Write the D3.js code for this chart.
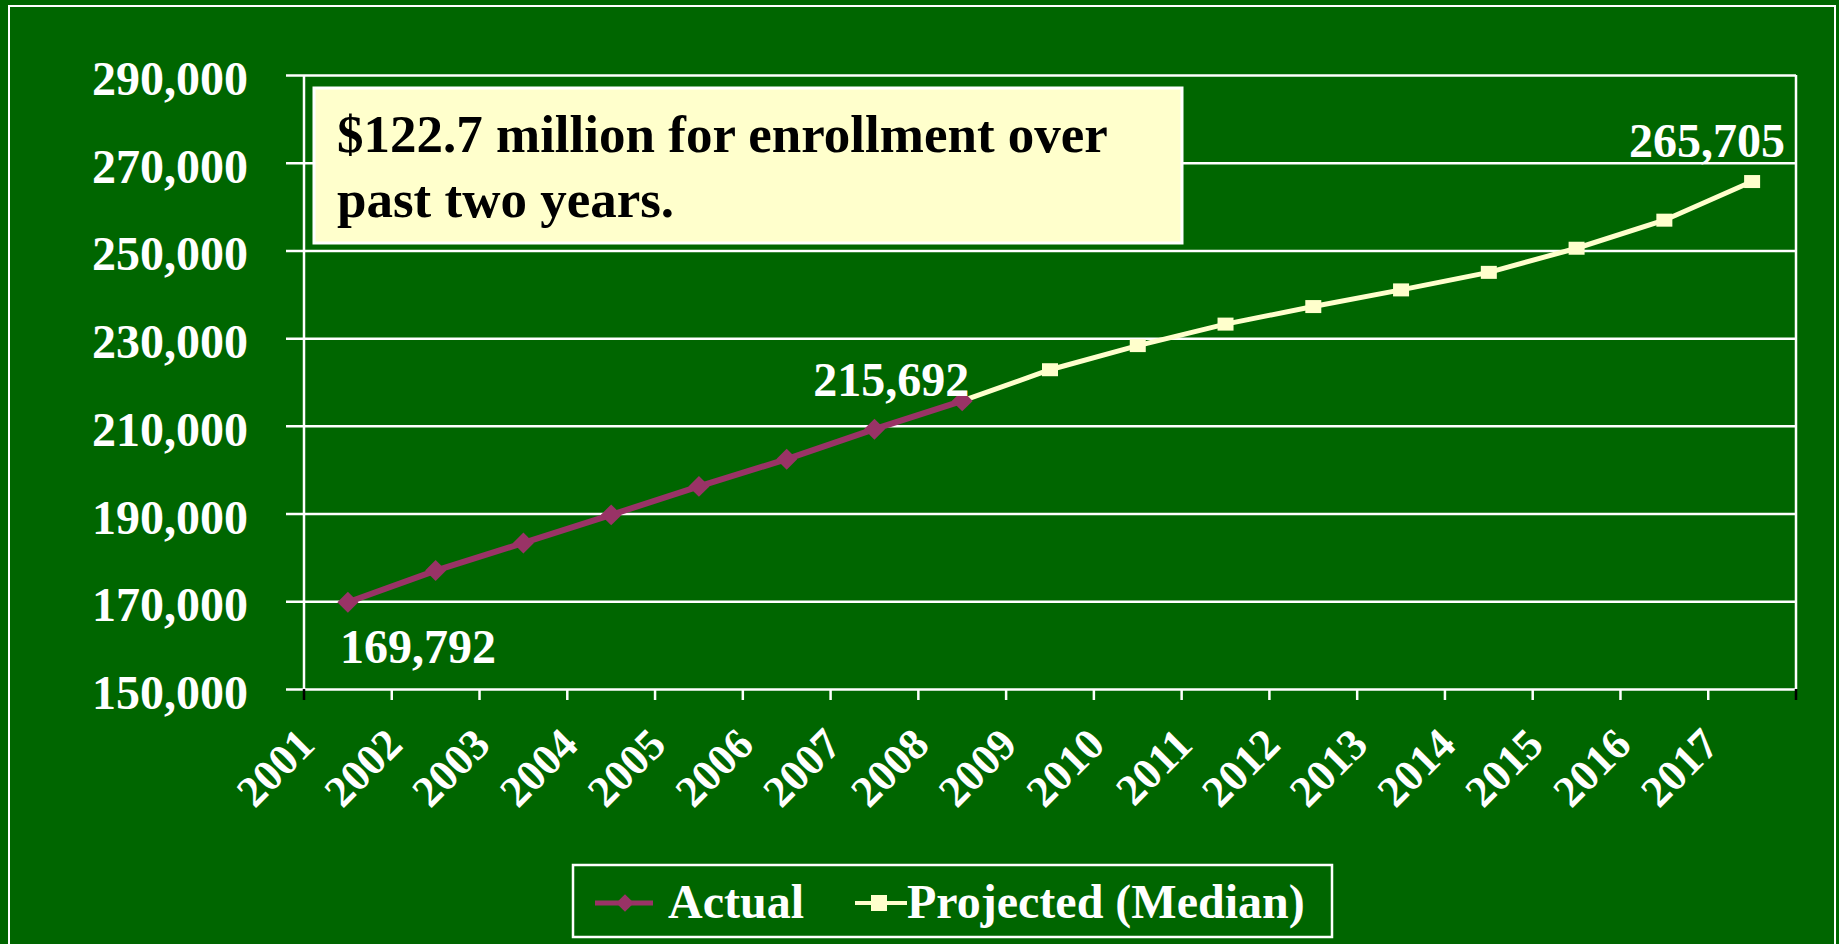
<!DOCTYPE html>
<html>
<head>
<meta charset="utf-8">
<script src="https://cdn.jsdelivr.net/npm/d3@7"></script>
<style>
  html, body { margin: 0; padding: 0; background: #006600; }
  svg { display: block; font-family: "Liberation Serif", "Times New Roman", serif; font-weight: bold; }
</style>
</head>
<body>
<svg id="chart"></svg>
<script>
// Data
const years = ["2001","2002","2003","2004","2005","2006","2007","2008","2009",
               "2010","2011","2012","2013","2014","2015","2016","2017"];
const actualYears = ["2001","2002","2003","2004","2005","2006","2007","2008"];
const actualValues = [169792, 177000, 183300, 189700, 196200, 202400, 209250, 215692];
const projectedYears = ["2008","2009","2010","2011","2012","2013","2014","2015","2016","2017"];
const projectedValues = [215692, 222800, 228300, 233200, 237200, 241000, 245000, 250500, 256900, 265705];
const yTicks = [150000, 170000, 190000, 210000, 230000, 250000, 270000, 290000];

const W = 1839, H = 944;
const margin = { top: 75, right: 43, bottom: 255, left: 304 };
const width = W - margin.left - margin.right;
const height = H - margin.top - margin.bottom;

const root = d3.select("#chart").attr("width", W).attr("height", H);

// background + outer frame
root.append("rect").attr("width", W).attr("height", H).attr("fill", "#006600");
root.append("rect")
  .attr("x", 9).attr("y", 6).attr("width", 1826).attr("height", 960)
  .attr("fill", "none").attr("stroke", "#fff").attr("stroke-width", 2);

const svg = root.append("g")
  .attr("transform", "translate(" + margin.left + "," + margin.top + ")");

const x = d3.scaleBand().domain(years).range([0, width]);
const y = d3.scaleLinear().domain([150000, 290000]).range([height, 0]);
const cx = d => x(d) + x.bandwidth() / 2;

// gridlines with left ticks
svg.append("g")
  .call(d3.axisLeft(y).tickValues(yTicks).tickSize(18).tickFormat(""))
  .call(g => g.select(".domain").remove())
  .call(g => g.selectAll("line").attr("x2", width).attr("x1", -18)
    .attr("stroke", "#fff").attr("stroke-width", 2.5));

// y labels
svg.selectAll(".ylab")
  .data(yTicks)
  .enter().append("text")
  .attr("x", -56)
  .attr("y", d => y(d) + 20)
  .attr("text-anchor", "end")
  .attr("fill", "#fff")
  .style("font-size", "48px")
  .text(d => d3.format(",")(d));

// plot frame
svg.append("line").attr("x1", 0).attr("x2", 0).attr("y1", 0).attr("y2", height)
  .attr("stroke", "#fff").attr("stroke-width", 2.5);
svg.append("line").attr("x1", width).attr("x2", width).attr("y1", 0).attr("y2", height)
  .attr("stroke", "#fff").attr("stroke-width", 2.5);

// x ticks at band boundaries
const bounds = years.map(d => x(d)).concat([width]);
svg.selectAll(".xtick")
  .data(bounds)
  .enter().append("line")
  .attr("x1", d => d).attr("x2", d => d)
  .attr("y1", height).attr("y2", height + 11)
  .attr("stroke", (d, i) => (i === 0 || i === bounds.length - 1) ? "#000" : "#fff")
  .attr("stroke-width", 2.5);

// x labels
svg.selectAll(".xlab")
  .data(years)
  .enter().append("text")
  .attr("transform", d => "translate(" + (cx(d) - 31) + "," + (height + 58) + ") rotate(-45)")
  .attr("text-anchor", "end")
  .attr("fill", "#fff")
  .style("font-size", "44px")
  .text(d => d);

// annotation box
svg.append("rect")
  .attr("x", 10).attr("y", 13).attr("width", 868).attr("height", 155)
  .attr("fill", "#FFFFCC").attr("stroke", "#fff").attr("stroke-width", 3);
svg.append("text").attr("x", 33).attr("y", 77).attr("fill", "#000")
  .style("font-size", "53px").text("$122.7 million for enrollment over");
svg.append("text").attr("x", 33).attr("y", 142).attr("fill", "#000")
  .style("font-size", "53px").text("past two years.");

// lines
const line = d3.line().x(d => cx(d[0])).y(d => y(d[1]));
const proj = projectedYears.map((d, i) => [d, projectedValues[i]]);
const act = actualYears.map((d, i) => [d, actualValues[i]]);

svg.append("path").datum(proj).attr("d", line)
  .attr("fill", "none").attr("stroke", "#FFFFCC").attr("stroke-width", 5);
svg.selectAll(".sq")
  .data(proj.slice(1))
  .enter().append("rect")
  .attr("x", d => cx(d[0]) - 8).attr("y", d => y(d[1]) - 6.5)
  .attr("width", 16).attr("height", 13)
  .attr("fill", "#FFFFCC");

svg.append("path").datum(act).attr("d", line)
  .attr("fill", "none").attr("stroke", "#993366").attr("stroke-width", 6);
svg.selectAll(".dm")
  .data(act)
  .enter().append("path")
  .attr("d", d3.symbol().type(d3.symbolDiamond2).size(280))
  .attr("transform", d => "translate(" + cx(d[0]) + "," + y(d[1]) + ")")
  .attr("fill", "#993366");

// data labels
const labels = [
  { year: "2001", value: actualValues[0], dx: 70, dy: 61 },
  { year: "2008", value: actualValues[7], dx: -71, dy: -5 },
  { year: "2017", value: projectedValues[9], dx: -45, dy: -25 }
];
svg.selectAll(".dlab")
  .data(labels)
  .enter().append("text")
  .attr("x", d => cx(d.year) + d.dx)
  .attr("y", d => y(d.value) + d.dy)
  .attr("text-anchor", "middle")
  .attr("fill", "#fff")
  .style("font-size", "48px")
  .text(d => d3.format(",")(d.value));

// legend
const lg = root.append("g").attr("transform", "translate(573,865)");
lg.append("rect").attr("width", 759).attr("height", 72)
  .attr("fill", "none").attr("stroke", "#fff").attr("stroke-width", 2.5);
lg.append("line").attr("x1", 22).attr("x2", 80).attr("y1", 38).attr("y2", 38)
  .attr("stroke", "#993366").attr("stroke-width", 5);
lg.append("path").attr("d", d3.symbol().type(d3.symbolDiamond2).size(200))
  .attr("transform", "translate(52,38)").attr("fill", "#993366");
lg.append("text").attr("x", 95).attr("y", 53).attr("fill", "#fff")
  .style("font-size", "48px").text("Actual");
lg.append("line").attr("x1", 282).attr("x2", 334).attr("y1", 38).attr("y2", 38)
  .attr("stroke", "#FFFFCC").attr("stroke-width", 4);
lg.append("rect").attr("x", 298).attr("y", 30).attr("width", 16).attr("height", 16)
  .attr("fill", "#FFFFCC");
lg.append("text").attr("x", 334).attr("y", 53).attr("fill", "#fff")
  .style("font-size", "48px").text("Projected (Median)");
</script>
</body>
</html>
